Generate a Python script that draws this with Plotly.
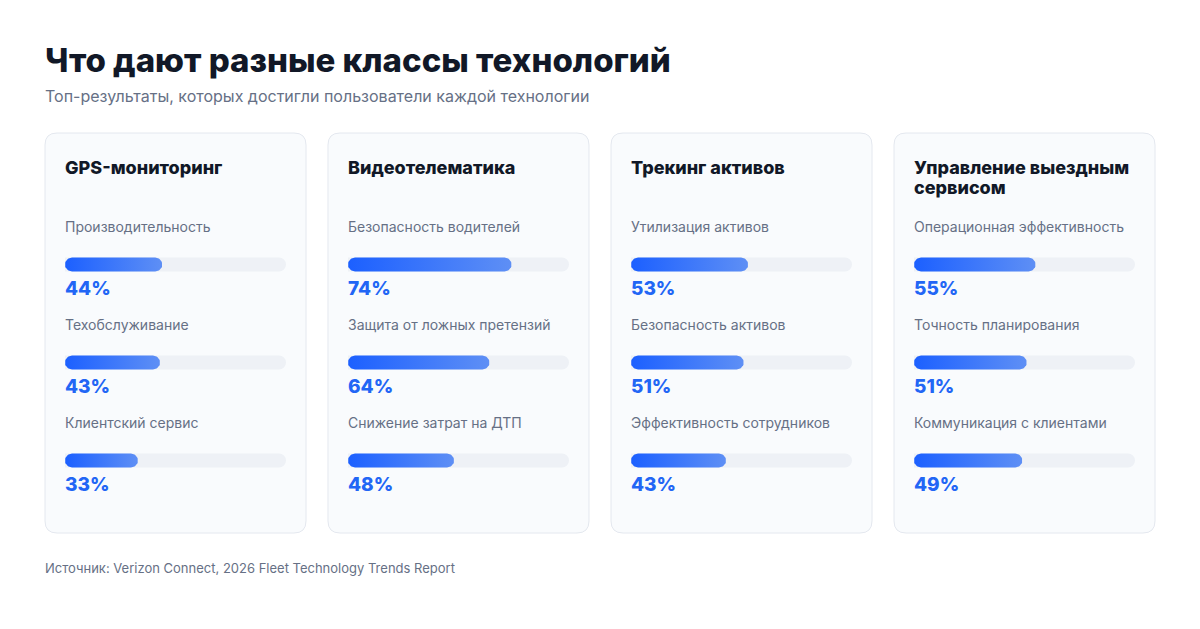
import numpy as np
import plotly.graph_objects as go

# ---------------- data ----------------
card_titles = ["GPS-мониторинг", "Видеотелематика", "Трекинг активов", "Управление выездным<br>сервисом"]

gps_labels = ["Производительность", "Техобслуживание", "Клиентский сервис"]
gps_values = [44, 43, 33]

video_labels = ["Безопасность водителей", "Защита от ложных претензий", "Снижение затрат на ДТП"]
video_values = [74, 64, 48]

asset_labels = ["Утилизация активов", "Безопасность активов", "Эффективность сотрудников"]
asset_values = [53, 51, 43]

field_labels = ["Операционная эффективность", "Точность планирования", "Коммуникация с клиентами"]
field_values = [55, 51, 49]

title_text = "Что дают разные классы технологий"
subtitle_text = "Топ-результаты, которых достигли пользователи каждой технологии"
source_text = "Источник: Verizon Connect, 2026 Fleet Technology Trends Report"

# ---------------- layout constants ----------------
W, H = 1200, 629
FONT = "Inter, 'Noto Sans', sans-serif"
CARD_LEFTS = [45, 328, 611, 894]
CARD_W = 261
CARD_TOP, CARD_BOTTOM = 133, 533
PAD = 20
BAR_W_PX = 221
ROW0_PX = 264.5
ROW_STEP = 98.0
BAR_H_PX = 14
BAR_H = BAR_H_PX / ROW_STEP
LABEL_DY = -38.5 / ROW_STEP
PCT_DY = 24.0 / ROW_STEP
C_LEFT, C_RIGHT = "#1c60ff", "#5e8ff5"
TRACK = "#eef1f6"
BLUE_TXT = "#2266f5"
XS = -2  # compensate annotation padding
CARD_TITLE_Y = 167.0
CARD_TITLE_LH = 20.7

cards = [
    (card_titles[0], gps_labels, gps_values),
    (card_titles[1], video_labels, video_values),
    (card_titles[2], asset_labels, asset_values),
    (card_titles[3], field_labels, field_values),
]


def px_x(p):
    return p / W


def px_y(p):
    return 1 - p / H


def rounded_bar(v, yc, h, rx):
    ry = h / 2
    rx = min(rx, v / 2)
    t_right = np.linspace(-np.pi / 2, np.pi / 2, 25)
    t_left = np.linspace(np.pi / 2, 3 * np.pi / 2, 25)
    xs = np.concatenate([(v - rx) + rx * np.cos(t_right), rx + rx * np.cos(t_left)])
    ys = np.concatenate([yc + ry * np.sin(t_right), yc + ry * np.sin(t_left)])
    return np.append(xs, xs[0]), np.append(ys, ys[0])


def round_rect_path(x0, y0, x1, y1, r):
    def P(x, y):
        return f"{px_x(x):.5f},{px_y(y):.5f}"
    return (f"M{P(x0 + r, y0)} L{P(x1 - r, y0)} Q{P(x1, y0)} {P(x1, y0 + r)} "
            f"L{P(x1, y1 - r)} Q{P(x1, y1)} {P(x1 - r, y1)} L{P(x0 + r, y1)} "
            f"Q{P(x0, y1)} {P(x0, y1 - r)} L{P(x0, y0 + r)} Q{P(x0, y0)} {P(x0 + r, y0)} Z")


fig = go.Figure()
shapes, annotations = [], []
layout_axes = {}

rx_data = 100 * (BAR_H_PX / 2) / BAR_W_PX

for ci, (ctitle, labels, values) in enumerate(cards):
    L = CARD_LEFTS[ci]
    xname = "x" if ci == 0 else f"x{ci + 1}"
    xkey = "xaxis" if ci == 0 else f"xaxis{ci + 1}"
    layout_axes[xkey] = dict(domain=[px_x(L + PAD), px_x(L + PAD + BAR_W_PX)], range=[0, 100],
                             visible=False, showgrid=False, zeroline=False, fixedrange=True,
                             anchor="y")
    rows = list(range(len(values)))
    fig.add_trace(go.Bar(x=[100] * len(values), y=rows, orientation="h", width=BAR_H,
                         marker=dict(color=TRACK, cornerradius=BAR_H_PX / 2, line=dict(width=0)),
                         xaxis=xname, yaxis="y", hoverinfo="skip", showlegend=False))
    for r, v in zip(rows, values):
        xs, ys = rounded_bar(v, r, BAR_H, rx_data)
        fig.add_trace(go.Scatter(x=xs, y=ys, mode="lines", line=dict(width=0), fill="toself",
                                 fillgradient=dict(type="horizontal",
                                                   colorscale=[[0, C_LEFT], [1, C_RIGHT]]),
                                 xaxis=xname, yaxis="y", hoverinfo="skip", showlegend=False))
        annotations.append(dict(text=labels[r], xref=xname, yref="y", x=0, y=r + LABEL_DY, xshift=XS,
                                xanchor="left", yanchor="middle", showarrow=False,
                                font=dict(family=FONT, size=14, color="#667085")))
        annotations.append(dict(text=f"{v}%", xref=xname, yref="y", x=0, y=r + PCT_DY, xshift=XS,
                                xanchor="left", yanchor="middle", showarrow=False,
                                font=dict(family=FONT, size=19, color=BLUE_TXT, weight=800)))
    shapes.append(dict(type="path", xref="paper", yref="paper",
                       path=round_rect_path(L, CARD_TOP, L + CARD_W, CARD_BOTTOM, 12),
                       fillcolor="#f9fbfd", line=dict(color="#e4e8ef", width=1), layer="below"))
    for li, line in enumerate(ctitle.split("<br>")):
        annotations.append(dict(text=line, xref="paper", yref="paper", x=px_x(L + PAD),
                                y=px_y(CARD_TITLE_Y + li * CARD_TITLE_LH),
                                xshift=XS, xanchor="left", yanchor="middle", showarrow=False,
                                font=dict(family=FONT, size=18, color="#111827", weight=800)))

annotations.append(dict(text=title_text, xref="paper", yref="paper", x=px_x(45), y=px_y(59.5), xshift=XS,
                        xanchor="left", yanchor="middle", showarrow=False,
                        font=dict(family=FONT, size=33, color="#111827", weight=800)))
annotations.append(dict(text=subtitle_text, xref="paper", yref="paper", x=px_x(45), y=px_y(96), xshift=XS,
                        xanchor="left", yanchor="middle", showarrow=False,
                        font=dict(family=FONT, size=16, color="#667085")))
annotations.append(dict(text=source_text, xref="paper", yref="paper", x=px_x(45), y=px_y(568), xshift=XS,
                        xanchor="left", yanchor="middle", showarrow=False,
                        font=dict(family=FONT, size=13, color="#667085")))

fig.update_layout(
    width=W, height=H, margin=dict(l=0, r=0, t=0, b=0),
    paper_bgcolor="white", plot_bgcolor="rgba(0,0,0,0)",
    barmode="overlay", showlegend=False,
    yaxis=dict(domain=[0, 1], range=[(H - ROW0_PX) / ROW_STEP, -ROW0_PX / ROW_STEP],
               visible=False, showgrid=False, zeroline=False, fixedrange=True, anchor="x"),
    shapes=shapes, annotations=annotations,
    **layout_axes,
)

fig.write_html("out.html", config=dict(displayModeBar=False))
